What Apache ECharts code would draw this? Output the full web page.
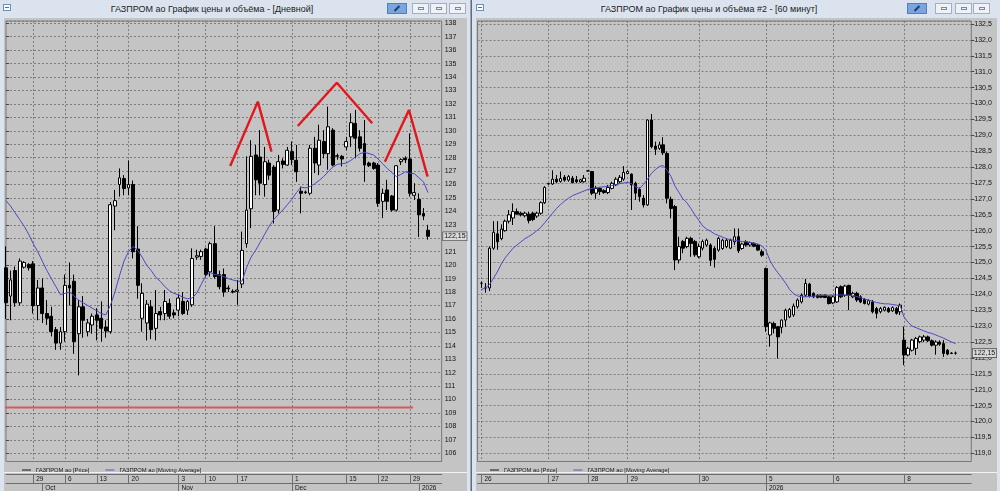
<!DOCTYPE html>
<html><head><meta charset="utf-8">
<script src="https://cdn.jsdelivr.net/npm/echarts@6/dist/echarts.min.js"></script>
<style>
html,body{margin:0;padding:0;width:1000px;height:491px;overflow:hidden;background:#dbe4ee;font-family:'Liberation Sans',Arial,sans-serif;}
.win{position:absolute;top:0;height:491px;background:#dbe4ee;}
.ttl{position:absolute;top:0;height:18px;line-height:18px;text-align:center;font-size:9px;color:#1b1b1b;white-space:nowrap;}
.ico{position:absolute;top:4px;width:8px;height:7px;background:#fff;border:1px solid #6f8fb8;box-sizing:border-box;}
.ico:after{content:'';position:absolute;left:1px;top:2px;width:4px;height:1px;background:#d04040;}
.pin{position:absolute;top:3px;width:20px;height:11px;background:#79a6df;border:1px solid #4f7fbf;box-sizing:border-box;}
.pin:after{content:'';position:absolute;left:8px;top:1px;width:2px;height:7px;background:#1d3d6a;transform:rotate(45deg);}
.btn{position:absolute;top:3px;width:17px;height:11px;background:#eef2f7;border:1px solid #9fb0c4;box-sizing:border-box;}
.btn i{position:absolute;left:5px;top:3px;width:6px;height:3px;border:1px solid #7a8a9c;box-sizing:border-box;}
.ct{position:absolute;background:#c4c4c4;}
.sep{position:absolute;height:1px;background:#f2f2f2;}
#chart{position:absolute;left:0;top:0;width:1000px;height:491px;}
</style></head>
<body>
<div class="win" style="left:0;width:470px">
  <div class="ico" style="left:3px"></div>
  <div class="ttl" style="left:0;width:424px">ГАЗПРОМ ао График цены и объёма - [Дневной]</div>
  <div class="pin" style="left:387px"></div>
  <div class="btn" style="left:412px"><i></i></div>
  <div class="btn" style="left:430px"><i></i></div>
  <div class="btn" style="left:449px"><i></i></div>
  <div class="ct" style="left:4px;top:18px;width:463px;height:473px"></div>
  <div class="sep" style="left:4px;top:472px;width:463px"></div>
</div>
<div style="position:absolute;left:470px;top:0;width:1px;height:491px;background:#9aa6b3"></div>
<div style="position:absolute;left:471px;top:0;width:1px;height:491px;background:#5f6b78"></div>
<div class="win" style="left:473px;width:527px">
  <div class="ico" style="left:3px"></div>
  <div class="ttl" style="left:0;width:472px">ГАЗПРОМ ао График цены и объёма #2 - [60 минут]</div>
  <div class="pin" style="left:434px"></div>
  <div class="btn" style="left:462px"><i></i></div>
  <div class="btn" style="left:482px"><i></i></div>
  <div class="btn" style="left:500px"><i></i></div>
  <div class="ct" style="left:3px;top:18px;width:521px;height:473px"></div>
  <div class="sep" style="left:3px;top:472px;width:521px"></div>
</div>
<div id="chart"></div>
<script>
// ---------------- Daily panel data: [open, close, low, high] ----------------
const dailyCandles = [
[119.8,117.2,116.0,121.4],[117.7,118.9,115.9,119.6],[119.6,117.2,116.9,119.9],[117.2,120.3,117.0,120.5],
[119.85,120.2,119.75,120.3],[120.05,119.8,119.6,120.15],[120.1,117.0,116.4,120.3],[117.0,118.3,115.9,118.9],
[118.3,116.4,115.7,119.0],[116.4,116.05,115.55,117.4],[116.2,115.05,114.7,116.9],[115.2,114.2,113.7,115.4],
[114.2,115.05,113.7,115.4],[115.05,118.5,114.3,119.3],[118.5,118.3,117.0,120.2],[118.8,114.3,113.4,119.3],
[114.9,116.9,111.8,117.4],[116.9,115.9,114.6,117.7],[115.05,115.7,114.7,116.0],[115.55,116.2,114.9,116.4],
[116.3,115.9,114.4,116.8],[116.05,115.3,114.3,117.3],[115.4,115.1,114.6,115.9],[115.05,124.5,114.9,124.7],
[124.4,124.8,122.6,125.6],[126.0,126.5,125.1,127.2],[126.45,125.7,125.2,126.7],[125.75,126.0,125.2,127.8],
[126.0,121.0,120.5,126.3],[121.2,118.5,117.5,122.9],[116.05,117.9,115.05,118.65],[115.7,117.1,114.4,117.4],
[116.9,115.2,114.5,117.4],[115.3,116.4,114.4,118.15],[116.55,116.3,115.9,116.9],[116.4,117.3,115.9,118.15],
[117.15,116.2,116.0,117.5],[116.45,116.3,116.05,116.7],[116.65,117.55,116.2,117.8],[117.3,116.4,116.3,118.0],
[116.65,117.3,116.3,117.4],[117.05,120.5,116.9,121.25],[120.6,120.7,120.4,121.15],[120.65,121.0,120.4,121.15],
[121.2,119.3,119.1,121.3],[119.5,121.6,119.15,121.75],[121.6,119.15,119.0,122.9],[119.3,118.4,118.2,119.6],
[119.3,118.0,117.65,119.75],[118.3,118.25,118.0,118.5],[118.05,118.0,117.9,118.2],[118.05,118.15,117.05,118.9],
[118.6,121.1,118.3,122.5],[121.6,124.1,121.3,128.1],[124.2,128.1,122.75,129.3],[128.2,126.35,125.2,128.95],
[128.05,126.1,125.2,130.05],[126.0,127.7,125.1,128.8],[127.6,126.7,126.35,127.85],[127.3,124.0,123.1,127.45],
[124.1,127.7,123.85,128.2],[127.75,127.5,127.2,127.95],[127.45,128.55,127.4,128.8],[128.45,127.85,127.45,129.2],
[127.8,126.95,126.2,128.95],[125.5,125.35,123.85,125.85],[125.45,125.4,125.3,125.55],[125.35,128.7,125.2,128.95],
[128.7,127.6,126.85,129.55],[127.45,129.3,126.7,130.45],[129.2,128.3,127.95,130.05],[128.3,130.3,127.1,131.8],
[130.05,127.45,127.35,130.2],[128.1,128.15,127.85,128.3],[128.1,127.9,127.35,128.2],[128.8,129.2,128.55,129.55],
[129.55,130.6,128.8,131.3],[130.55,129.45,127.95,131.55],[129.55,128.7,128.45,130.05],[129.05,127.45,126.2,130.8],
[127.6,127.4,127.3,127.7],[127.6,127.2,127.1,127.7],[127.45,124.6,124.35,127.6],[124.75,125.35,123.5,125.7],
[125.6,124.75,124.1,126.35],[125.15,124.1,123.98,125.22],[124.1,127.4,124.0,127.45],[127.7,127.85,127.45,127.95],
[127.95,127.85,127.6,128.1],[127.9,125.35,125.1,129.8],[125.2,125.4,124.85,126.1],[124.9,123.75,122.1,125.35],
[123.85,123.65,123.35,124.25],[122.6,122.15,121.9,123.0]
];
const dailyMA = [
124.8,124.4,123.9,123.4,122.9,122.3,121.6,121.0,120.3,119.6,119.0,118.4,117.8,117.9,118.0,117.7,
117.4,117.2,117.0,116.8,116.6,116.4,116.3,117.0,118.0,119.2,120.3,121.0,121.4,121.1,120.6,120.0,
119.6,119.1,118.8,118.4,118.1,117.9,117.8,117.6,117.5,117.55,117.9,118.55,119.2,119.45,119.3,119.25,
119.15,119.0,118.9,118.8,118.8,119.8,120.6,121.1,121.7,122.3,122.9,123.4,123.75,124.1,124.5,124.9,
125.4,125.8,125.75,125.85,126.05,126.3,126.6,126.95,127.3,127.5,127.55,127.6,127.8,128.05,128.3,128.4,
128.3,128.2,127.9,127.55,127.2,126.9,126.6,126.75,126.95,126.85,126.8,126.5,126.2,125.4
];
const dailyCategoryCount = 97;
const dailyDayTickIdx  = [6, 13, 20, 27, 38, 44, 51, 63, 75, 82, 89];
const dailyDayTickText = ['29','6','13','20','3','10','17','1','15','22','29'];
const dailyMonthTickIdx  = [8, 38, 63, 91];
const dailyMonthTickText = ['Oct','Nov','Dec','2026'];
// hand-drawn annotations (x in candle index units, y in price)
const peakLines = [
  [[49.4,127.38],[55.5,132.17],[58.5,128.45]],
  [[64.3,130.36],[72.9,133.58],[80.7,130.56]],
  [[83.5,127.7],[88.8,131.55],[92.9,126.59]]
];
const supportLine = [[-0.2,109.4],[89.7,109.4]];

// ---------------- Hourly panel data ----------------
const hourlyCandles = [
[124.35,124.35,124.2,124.4],[124.2,124.2,124.05,124.35],[124.2,125.45,124.1,125.5],[125.45,125.95,125.4,126.3],
[125.9,125.65,125.4,126.3],[125.75,126.05,125.7,126.2],[126.0,126.3,125.97,126.35],[126.3,126.5,126.23,126.65],
[126.4,126.6,126.18,126.86],[126.6,126.52,126.5,126.7],[126.55,126.5,126.45,126.6],[126.47,126.55,126.42,126.6],
[126.52,126.32,126.23,126.6],[126.55,126.35,126.3,126.6],[126.46,126.55,126.4,126.6],[126.55,126.88,126.5,126.92],
[126.88,127.36,126.84,127.4],[127.47,127.48,127.45,127.5],[127.47,127.62,127.44,127.9],[127.62,127.54,127.49,127.75],
[127.55,127.64,127.51,127.86],[127.68,127.59,127.54,127.75],[127.59,127.7,127.54,127.75],[127.65,127.51,127.49,127.72],
[127.6,127.54,127.49,127.72],[127.53,127.6,127.5,127.63],[127.54,127.65,127.51,127.75],[127.88,127.88,127.86,127.9],
[127.86,127.18,127.12,127.88],[127.18,127.33,127.0,127.41],[127.33,127.23,127.12,127.36],[127.26,127.2,127.16,127.3],
[127.2,127.36,127.15,127.44],[127.33,127.49,127.3,127.54],[127.44,127.62,127.41,127.68],[127.54,127.68,127.49,127.75],
[127.62,127.83,127.57,128.03],[127.8,127.86,127.78,127.9],[127.78,127.44,126.65,127.8],[127.49,127.18,126.97,127.54],
[127.3,127.07,126.91,127.36],[127.02,126.81,126.73,127.12],[126.81,129.48,126.78,129.5],[129.48,128.64,128.59,129.67],
[128.66,128.56,128.38,128.8],[128.59,128.7,128.54,128.8],[128.7,128.45,128.38,128.94],[128.43,127.02,126.86,128.49],
[126.99,126.7,126.39,127.07],[126.76,125.08,124.76,126.81],[125.08,125.5,124.97,125.81],[125.66,125.45,125.29,125.71],
[125.5,125.76,125.45,125.81],[125.76,125.6,125.18,125.81],[125.66,125.24,125.18,125.71],[125.18,125.5,125.13,125.6],
[125.45,125.66,125.38,125.72],[125.55,125.7,125.5,125.75],[125.55,125.07,124.89,125.6],[125.44,125.1,124.84,125.5],
[125.39,125.76,125.34,125.81],[125.44,125.7,125.4,125.75],[125.5,125.7,125.45,125.75],[125.45,125.7,125.42,125.75],
[125.65,125.81,125.55,126.07],[125.81,125.37,125.3,126.07],[125.44,125.58,125.4,125.62],[125.65,125.55,125.5,125.7],
[125.55,125.62,125.5,125.66],[125.6,125.51,125.48,125.64],[125.55,125.39,125.36,125.58],[125.34,125.23,125.18,125.41],
[124.81,122.98,122.82,124.84],[122.72,123.1,122.35,123.14],[123.08,122.93,122.77,123.14],[122.98,122.66,121.98,123.0],
[122.96,123.19,122.77,123.21],[123.19,123.5,122.98,123.55],[123.29,123.52,123.25,123.57],[123.35,123.63,123.29,123.71],
[123.61,123.82,123.55,123.87],[123.76,123.97,123.71,124.03],[123.97,124.34,123.92,124.48],[124.32,123.94,123.9,124.36],
[124.03,123.92,123.88,124.06],[123.97,123.9,123.87,124.0],[123.97,123.91,123.88,124.0],[123.97,123.9,123.88,124.0],
[123.92,123.71,123.68,123.95],[123.73,123.92,123.69,123.97],[123.76,124.21,123.73,124.26],[124.24,123.92,123.88,124.28],
[123.97,124.26,123.92,124.3],[124.28,123.97,123.5,124.3],[123.92,124.03,123.88,124.08],[124.03,123.82,123.76,124.08],
[123.92,123.76,123.72,123.97],[123.84,123.71,123.68,123.88],[123.69,123.8,123.65,123.84],[123.76,123.45,123.4,123.82],
[123.55,123.4,123.24,123.6],[123.45,123.55,123.4,123.6],[123.5,123.59,123.46,123.62],[123.55,123.45,123.42,123.6],
[123.48,123.58,123.45,123.62],[123.55,123.4,123.36,123.6],[123.45,123.66,123.35,123.71],[122.56,122.09,121.77,122.98],
[122.09,122.3,122.05,122.35],[122.24,122.56,122.2,122.6],[122.3,122.61,122.09,122.66],[122.51,122.66,122.46,122.7],
[122.56,122.66,122.5,122.72],[122.66,122.54,122.5,122.7],[122.54,122.4,122.36,122.58],[122.4,122.5,122.1,122.55],
[122.5,122.43,122.38,122.55],[122.45,122.14,122.03,122.56],[122.24,122.12,122.08,122.28],[122.15,122.14,122.12,122.18],
[122.15,122.15,122.1,122.2]
];
const hourlyMA = [
124.15,124.2,124.3,124.5,124.7,124.95,125.15,125.3,125.45,125.55,125.65,125.75,125.82,125.9,126.0,126.1,
126.25,126.4,126.55,126.7,126.82,126.93,127.02,127.1,127.15,127.2,127.25,127.3,127.33,127.35,127.37,127.38,
127.4,127.42,127.45,127.48,127.5,127.52,127.48,127.38,127.33,127.45,127.62,127.8,127.92,128.02,128.05,127.9,
127.7,127.4,127.2,127.0,126.88,126.7,126.5,126.33,126.15,126.05,125.98,125.9,125.85,125.8,125.75,125.72,
125.7,125.68,125.66,125.65,125.63,125.61,125.58,125.52,125.38,125.07,124.85,124.68,124.52,124.35,124.15,124.02,
123.95,123.92,123.92,123.93,123.94,123.95,123.96,123.97,123.97,123.97,123.98,123.98,123.98,123.97,123.97,123.93,
123.89,123.85,123.82,123.78,123.74,123.72,123.7,123.7,123.68,123.66,123.63,123.28,123.12,123.0,122.95,122.9,
122.85,122.8,122.77,122.72,122.67,122.62,122.56,122.5,122.45
];
const hourlyLead = 1;            // one empty slot before the first candle
const hourlyCategoryCount = 126;
const hourlyDayTickIdx  = [0, 17, 27, 37, 55, 72, 89, 107];
const hourlyDayTickText = ['26','27','28','29','30','5','6','8'];
const hourlyMonthTickIdx  = [72];
const hourlyMonthTickText = ['2026'];

const PRICE_NAME = 'ГАЗПРОМ ао [Price]';
const MA_NAME = 'ГАЗПРОМ ао [Moving Average]';

// ---------------- chart ----------------
const FONT = "'Liberation Sans', Arial, sans-serif";
const GRIDC = '#7e7e7e';
const FRAME = '#787878';
const MAC = '#4a4ac6';
const chart = echarts.init(document.getElementById('chart'), null, {renderer:'canvas'});

function cats(n){ return Array.from({length:n}, (_, i) => String(i)); }
function idxMap(idx, txt, lead){ const m = {}; idx.forEach((k, j) => { m[k + lead] = txt[j]; }); return m; }

function mainX(grid, n, splitMap){
  return {type:'category', gridIndex:grid, data:cats(n), boundaryGap:false, position:'bottom',
    axisLine:{show:false}, axisTick:{show:false}, axisLabel:{show:false},
    splitLine:{show:true, interval:(i) => splitMap[i] !== undefined, lineStyle:{color:GRIDC, width:1, type:[2,2]}}};
}
function stripX(grid, n, map, offset, tickLen){
  return {type:'category', gridIndex:grid, data:cats(n), boundaryGap:false, position:'bottom', offset:offset,
    axisLine:{show:true, lineStyle:{color:'#6e6e6e', width:1}},
    axisTick:{show:true, interval:(i) => map[i] !== undefined, length:tickLen, lineStyle:{color:'#6e6e6e', width:1}},
    axisLabel:{show:true, interval:(i) => map[i] !== undefined, formatter:(v, i) => (map[i] !== undefined ? map[i] : ''),
      align:'left', margin:1.5, padding:[0,0,0,3], fontSize:6.5, color:'#151515', fontFamily:FONT},
    splitLine:{show:false}};
}
function annX(grid, n){ return {type:'value', gridIndex:grid, min:0, max:n-1, show:false}; }
function yAx(grid, min, max, split, fmt){
  return {type:'value', gridIndex:grid, position:'right', min:min, max:max, splitNumber:split,
    axisLine:{show:false}, axisTick:{show:true, length:3, lineStyle:{color:'#444'}},
    axisLabel:{show:true, showMinLabel:false, showMaxLabel:false, margin:3, fontSize:7, color:'#111', fontFamily:FONT, formatter:fmt},
    splitLine:{show:true, lineStyle:{color:GRIDC, width:1, type:[2,2]}}};
}

const dDay = idxMap(dailyDayTickIdx, dailyDayTickText, 0);
const dMon = idxMap(dailyMonthTickIdx, dailyMonthTickText, 0);
const hDay = idxMap(hourlyDayTickIdx, hourlyDayTickText, hourlyLead);
const hMon = idxMap(hourlyMonthTickIdx, hourlyMonthTickText, hourlyLead);

const candleStyle = {color:'#ffffff', color0:'#000000', borderColor:'#000000', borderColor0:'#000000', borderWidth:1};
const DASH = 'path://M0,0H10V1H0Z';
function legend(left){
  return {left:left, top:462, orient:'horizontal', itemWidth:9, itemHeight:1, itemGap:16, selectedMode:false,
    itemStyle:{borderWidth:0, borderColor:'transparent'},
    textStyle:{fontSize:5.8, color:'#1a1a1a', fontFamily:FONT},
    data:[{name:PRICE_NAME, icon:DASH, itemStyle:{color:'#000', borderWidth:0, borderColor:'transparent'}},
          {name:MA_NAME, icon:DASH, itemStyle:{color:MAC, borderWidth:0, borderColor:'transparent'}}]};
}

const option = {
  animation:false,
  backgroundColor:'transparent',
  grid:[
    {left:6, top:21, width:(dailyCategoryCount-1)*4.538, height:440.5, show:true, borderColor:FRAME, borderWidth:1, backgroundColor:'transparent', outerBoundsMode:'none'},
    {left:477.55, top:21, width:(hourlyCategoryCount-1)*3.95, height:440.5, show:true, borderColor:FRAME, borderWidth:1, backgroundColor:'transparent', outerBoundsMode:'none'}
  ],
  legend:[legend(17), legend(485)],
  xAxis:[
    mainX(0, dailyCategoryCount, dDay),
    stripX(0, dailyCategoryCount, dDay, 12.5, 9),
    stripX(0, dailyCategoryCount, dMon, 21.5, 8),
    annX(0, dailyCategoryCount),
    mainX(1, hourlyCategoryCount, hDay),
    stripX(1, hourlyCategoryCount, hDay, 12.5, 9),
    stripX(1, hourlyCategoryCount, hMon, 21.5, 8)
  ],
  yAxis:[
    yAx(0, 105.39, 138.17, 33, (v) => String(Math.round(v))),
    yAx(1, 118.742, 132.594, 28, (v) => v.toFixed(1).replace('.', ','))
  ],
  series:[
    {name:PRICE_NAME, type:'candlestick', xAxisIndex:0, yAxisIndex:0, barWidth:3.4, clip:false,
      data:dailyCandles.map((d, i) => [i, d[0], d[1], d[2], d[3]]), encode:{x:0, y:[1,2,3,4]},
      itemStyle:candleStyle, emphasis:{disabled:true}},
    {name:MA_NAME, type:'line', xAxisIndex:0, yAxisIndex:0, showSymbol:false, symbol:'none',
      data:dailyMA.map((v, i) => [i, v]), lineStyle:{color:MAC, width:1}, itemStyle:{color:MAC}, emphasis:{disabled:true}},
    ...peakLines.map((p, k) => ({name:'peak' + k, type:'line', xAxisIndex:3, yAxisIndex:0, symbol:'none', data:p,
      lineStyle:{color:'#e3161b', width:2.4}, emphasis:{disabled:true}, clip:false})),
    {name:'support', type:'line', xAxisIndex:3, yAxisIndex:0, symbol:'none', data:supportLine,
      lineStyle:{color:'#d65a5a', width:2}, emphasis:{disabled:true}, clip:false},
    {name:PRICE_NAME, type:'candlestick', xAxisIndex:4, yAxisIndex:1, barWidth:3, clip:false,
      data:hourlyCandles.map((d, i) => [i + hourlyLead, d[0], d[1], d[2], d[3]]), encode:{x:0, y:[1,2,3,4]},
      itemStyle:candleStyle, emphasis:{disabled:true}},
    {name:MA_NAME, type:'line', xAxisIndex:4, yAxisIndex:1, showSymbol:false, symbol:'none',
      data:hourlyMA.map((v, i) => [i + hourlyLead, v]), lineStyle:{color:MAC, width:1}, itemStyle:{color:MAC}, emphasis:{disabled:true}}
  ]
};
chart.setOption(option);

// last-price tags on the price axes
const lastD = dailyCandles[dailyCandles.length - 1][1];
const lastH = hourlyCandles[hourlyCandles.length - 1][1];
const yD = chart.convertToPixel({yAxisIndex:0}, lastD);
const yH = chart.convertToPixel({yAxisIndex:1}, lastH);
const xD = option.grid[0].left + option.grid[0].width + 1.5;
const xH = option.grid[1].left + option.grid[1].width + 1.5;
function tag(x, y, val){
  return {type:'text', x:x, y:y, z:100, style:{text:val.toFixed(2).replace('.', ','), verticalAlign:'middle', align:'left',
    fill:'#111', font:'7px ' + FONT, backgroundColor:'#d9d9d9', borderColor:'#555', borderWidth:0.8, padding:[1,1,0,1]}};
}
chart.setOption({graphic:[tag(xD, yD, lastD), tag(xH, yH, lastH)]});
</script>
</body></html>
